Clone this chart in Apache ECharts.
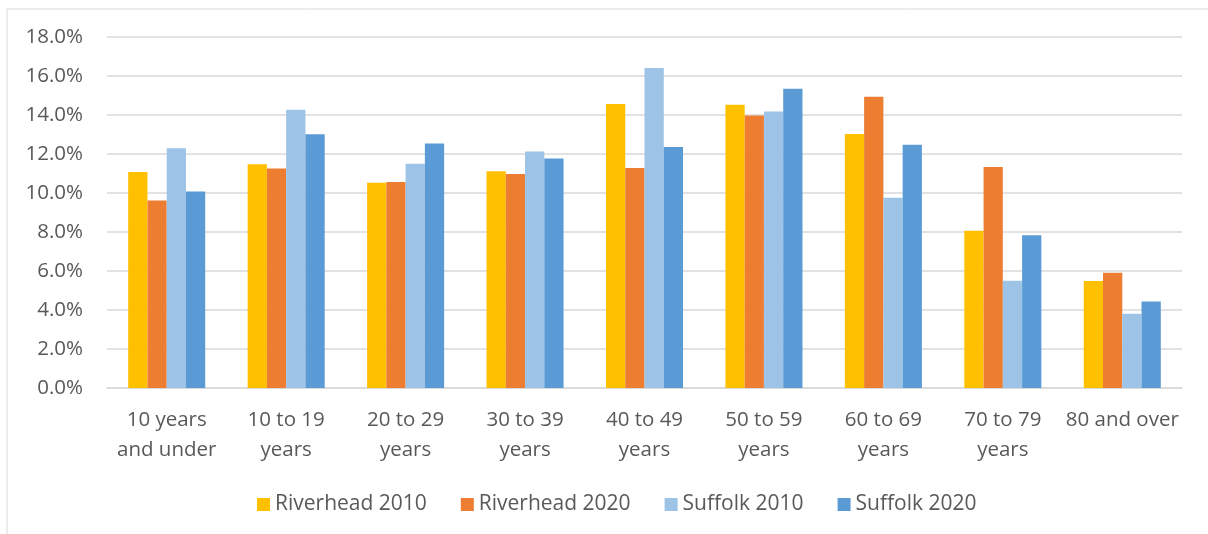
<!DOCTYPE html>
<html>
<head>
<meta charset="utf-8">
<script src="https://cdn.jsdelivr.net/npm/echarts@6/dist/echarts.min.js"></script>
<style>
  html, body { margin: 0; padding: 0; background: #fff; }
  #chart { width: 1208px; height: 534px; }
</style>
</head>
<body>
<div id="chart"></div>
<script>
// age groups on the x axis
const categories = ['10 years\nand under', '10 to 19\nyears', '20 to 29\nyears', '30 to 39\nyears',
  '40 to 49\nyears', '50 to 59\nyears', '60 to 69\nyears', '70 to 79\nyears', '80 and over']
// share of population, percent
const riverhead2010 = [11.08, 11.47, 10.53, 11.11, 14.56, 14.53, 13.03, 8.07, 5.49]
const riverhead2020 = [9.61, 11.26, 10.56, 10.97, 11.28, 13.98, 14.94, 11.33, 5.91]
const suffolk2010 = [12.29, 14.27, 11.50, 12.13, 16.41, 14.18, 9.76, 5.50, 3.81]
const suffolk2020 = [10.08, 13.01, 12.54, 11.77, 12.36, 15.35, 12.48, 7.83, 4.43]
const seriesNames = ['Riverhead 2010', 'Riverhead 2020', 'Suffolk 2010', 'Suffolk 2020']

const colors = ['#FFC000', '#ED7D31', '#9DC3E6', '#5B9BD5']
const textColor = '#595959'
const font = 'Open Sans'

let chart = echarts.init(document.getElementById('chart'), null, { renderer: 'canvas' })

let makeBar = (name, data) => {
  return {
    name: name,
    type: 'bar',
    data: data,
    barGap: '0%',
    barCategoryGap: '35.5%'
  }
}

let option = {
  animation: false,
  backgroundColor: '#fff',
  color: colors,
  graphic: [
    {
      type: 'rect',
      shape: { x: 7, y: 9, width: 1400, height: 700 },
      style: { fill: 'none', stroke: '#d9d9d9', lineWidth: 1 },
      silent: true
    }
  ],
  grid: {
    left: 107,
    right: 26,
    top: 37,
    bottom: 146
  },
  legend: {
    left: 252,
    top: 489,
    itemWidth: 13,
    itemHeight: 13,
    itemGap: 34,
    icon: 'rect',
    textStyle: { color: textColor, fontFamily: font, fontSize: 21 },
    data: seriesNames
  },
  xAxis: {
    type: 'category',
    data: categories,
    axisTick: { show: false },
    axisLine: { lineStyle: { color: '#d9d9d9', width: 1.5 } },
    axisLabel: {
      interval: 0,
      margin: 17,
      color: textColor,
      fontFamily: font,
      fontSize: 20.5,
      lineHeight: 30
    }
  },
  yAxis: {
    type: 'value',
    min: 0,
    max: 18,
    interval: 2,
    axisLine: { show: false },
    axisTick: { show: false },
    splitLine: { lineStyle: { color: '#d9d9d9', width: 1.5 } },
    axisLabel: {
      margin: 24,
      color: textColor,
      fontFamily: font,
      fontSize: 20.5,
      formatter: v => v.toFixed(1) + '%'
    }
  },
  series: [
    makeBar(seriesNames[0], riverhead2010),
    makeBar(seriesNames[1], riverhead2020),
    makeBar(seriesNames[2], suffolk2010),
    makeBar(seriesNames[3], suffolk2020)
  ]
}

chart.setOption(option)
</script>
</body>
</html>
